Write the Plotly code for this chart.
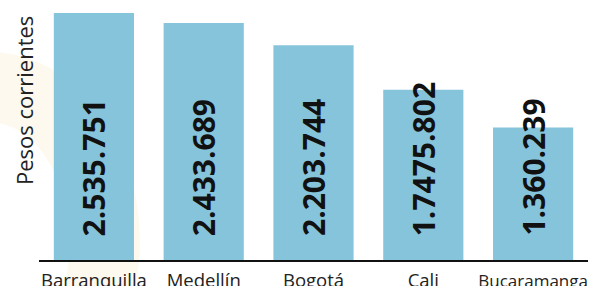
import plotly.graph_objects as go

cities = ["Barranquilla", "Medellín", "Bogotá", "Cali", "Bucaramanga"]
values = [2535751, 2433689, 2203744, 1747580, 1360239]
value_labels = ["2.535.751", "2.433.689", "2.203.744", "1.7475.802", "1.360.239"]
tick_labels = ["Barranquilla", "Medellín", "Bogotá", "Cali",
               "<span style='font-size:17px'>Bucaramanga</span>"]

fig = go.Figure()
fig.add_trace(go.Bar(x=cities, y=values, marker_color="#85C4DB",
                     marker_line_width=0, hoverinfo="skip"))

for c, v, t in zip(cities, values, value_labels):
    fig.add_annotation(x=c, y=0, xref="x", yref="y", text=t, textangle=-90,
                       showarrow=False, yanchor="bottom", xanchor="center",
                       yshift=22,
                       font=dict(family="Open Sans", size=30, color="#111111",
                                 weight="bold"))

pw = 590 - 39 - 2
ph = 286 - 13 - 26
fig.add_annotation(x=(24 - 39) / pw, y=(260 - 101) / ph, xref="paper", yref="paper",
                   text="Pesos corrientes", textangle=-90, showarrow=False,
                   xanchor="center", yanchor="middle",
                   font=dict(family="Open Sans", size=22, color="#222222"))

# decorative faint ring
fig.add_shape(type="circle", xref="paper", yref="paper",
              x0=-0.30, x1=0.12, y0=-0.55, y1=0.70,
              line=dict(color="#fdf9ef", width=70), layer="below")

fig.update_layout(
    width=590, height=286,
    margin=dict(l=39, r=2, t=13, b=26, autoexpand=False),
    paper_bgcolor="white", plot_bgcolor="rgba(0,0,0,0)",
    bargap=0.27, showlegend=False,
    xaxis=dict(tickvals=cities, ticktext=tick_labels, showline=True,
               linecolor="#111111", linewidth=2, ticks="", showgrid=False,
               automargin=False,
               tickfont=dict(family="Open Sans", size=18.5, color="#222222"),
               ticklabelstandoff=3),
    yaxis=dict(range=[0, 2535751], visible=False, showgrid=False, automargin=False),
)
fig.write_html("out.html", config={"displayModeBar": False},
               post_script="document.body.style.margin='0';document.body.style.overflow='hidden';")
